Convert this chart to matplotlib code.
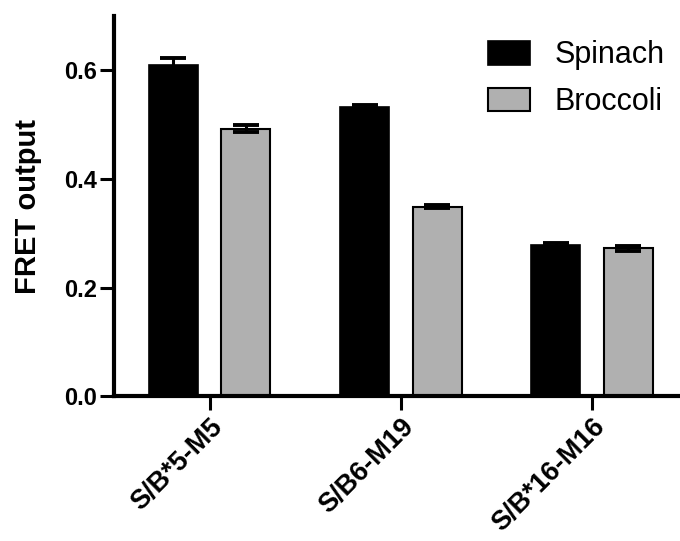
import matplotlib
matplotlib.use("Agg")
import matplotlib.pyplot as plt
import numpy as np

categories = ["S/B*5-M5", "S/B6-M19", "S/B*16-M16"]
series_names = ["Spinach", "Broccoli"]
spinach = [0.611, 0.533, 0.278]
spinach_err = [0.012, 0.004, 0.004]
broccoli = [0.493, 0.349, 0.272]
broccoli_err = [0.007, 0.003, 0.005]
yticks = [0.0, 0.2, 0.4, 0.6]

plt.rcParams['font.family'] = ['Liberation Sans', 'DejaVu Sans']

fig = plt.figure(figsize=(6.8, 5.41), dpi=100)
ax = fig.add_axes([0.1676, 0.268, 0.8324, 0.702])

spacing = 3.9
off = 0.74
w = 1.0
centers = np.arange(len(categories)) * spacing

colors = ["#000000", "#b0b0b0"]
ax.bar(centers - off, spinach, width=w, color=colors[0], edgecolor="#000000",
       linewidth=1.2, label=series_names[0], zorder=2)
ax.bar(centers + off, broccoli, width=w, color=colors[1], edgecolor="#000000",
       linewidth=1.5, label=series_names[1], zorder=2)
for xs, ys, es in [(centers - off, spinach, spinach_err), (centers + off, broccoli, broccoli_err)]:
    ax.errorbar(xs, ys, yerr=es, fmt='none', ecolor='black', elinewidth=2.2,
                capsize=9.5, capthick=2.8, zorder=3)

ax.set_xlim(-1.95, centers[-1] + 1.79)
ax.set_ylim(0, 0.7)
ax.set_yticks(yticks)
ax.set_yticklabels([f"{t:.1f}" for t in yticks], fontsize=17, fontweight='bold')
ax.set_xticks(centers)
ax.set_xticklabels(categories, fontsize=19.5, fontweight='bold', rotation=45,
                   ha='right', va='top', rotation_mode='anchor')
ax.tick_params(axis='both', length=10, width=2.2, pad=2)
ax.tick_params(axis='x', pad=3)

for s in ['top', 'right']:
    ax.spines[s].set_visible(False)
for s in ['left', 'bottom']:
    ax.spines[s].set_linewidth(3)

ax.set_ylabel("FRET output", fontsize=21, fontweight='bold')
ax.yaxis.set_label_coords(-0.128, 0.5)

leg = ax.legend(loc='upper left', bbox_to_anchor=(0.623, 0.993), frameon=False,
                fontsize=22, handlelength=1.38, handleheight=0.82,
                handletextpad=0.79, labelspacing=0.55, borderaxespad=0.3)

fig.savefig("out.png", dpi=100)
